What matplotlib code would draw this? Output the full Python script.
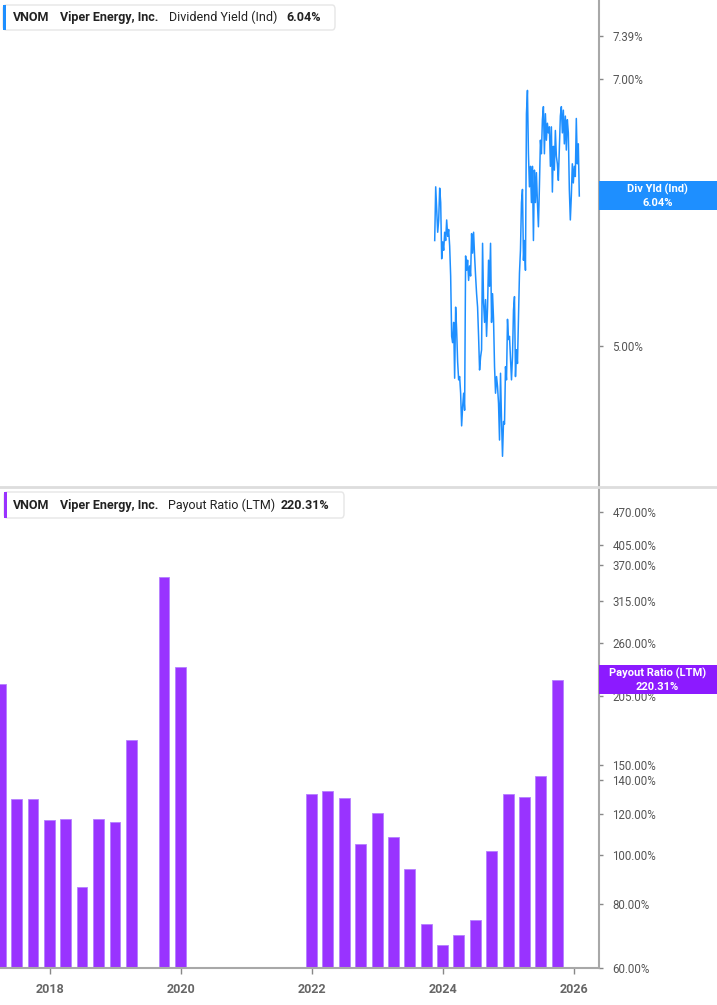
import matplotlib
matplotlib.use('Agg')
import matplotlib.pyplot as plt
import matplotlib.dates as mdates
from matplotlib.patches import FancyBboxPatch, Rectangle
from matplotlib.lines import Line2D
from matplotlib.ticker import FixedLocator, NullLocator, FuncFormatter
import pandas as pd

plt.rcParams['font.family'] = ['Roboto', 'DejaVu Sans']

# dividend yield (ind), %, sampled about every 5-6 days
yield_start = '2023-11-17'
yield_end = '2026-01-31'
yield_values = [
    5.71, 6.11, 5.93, 5.77, 5.86, 6.10, 5.99, 5.58, 5.70, 5.64,
    5.77, 5.71, 5.86, 5.74, 5.79, 5.67, 5.46, 5.06, 5.02, 5.15,
    4.80, 5.25, 5.10, 4.90, 4.79, 4.81, 4.71, 4.52, 4.63, 4.71,
    4.61, 5.60, 5.50, 5.57, 5.43, 5.53, 5.46, 5.76, 5.62, 5.77,
    5.60, 5.46, 5.34, 5.25, 5.06, 4.85, 4.93, 4.975, 5.69, 5.28,
    5.15, 5.30, 5.06, 5.25, 5.57, 5.39, 5.69, 5.15, 5.34, 5.17,
    4.87, 4.71, 4.81, 4.75, 4.65, 4.44, 4.83, 4.55, 4.35, 4.545,
    4.53, 4.87, 4.79, 5.17, 5.04, 5.06, 4.93, 4.79, 4.93, 5.23,
    5.32, 4.81, 4.975, 4.89, 5.19, 5.48, 5.64, 5.99, 6.09, 5.57,
    5.71, 5.50, 6.70, 6.90, 6.37, 6.11, 6.27, 5.99, 6.27, 5.71,
    6.24, 5.99, 6.22, 5.99, 5.81, 6.11, 6.48, 6.37, 6.65, 6.76,
    6.37, 6.70, 6.48, 6.62, 6.54, 6.59, 6.27, 6.59, 6.07, 6.43,
    6.24, 6.56, 6.35, 6.29, 6.16, 6.43, 6.68, 6.76, 6.54, 6.73,
    6.45, 6.68, 6.40, 6.65, 6.54, 6.09, 5.86, 6.04, 6.29, 6.14,
    6.27, 6.19, 6.66, 6.29, 6.45, 6.04,
]
yield_last = 6.04

# payout ratio (LTM), %, quarter ends
payout_dates = [
    '2017-03-31', '2017-06-30', '2017-09-30', '2017-12-31',
    '2018-03-31', '2018-06-30', '2018-09-30', '2018-12-31',
    '2019-03-31', '2019-09-30', '2019-12-31',
    '2021-12-31', '2022-03-31', '2022-06-30', '2022-09-30',
    '2022-12-31', '2023-03-31', '2023-06-30', '2023-09-30',
    '2023-12-31', '2024-03-31', '2024-06-30', '2024-09-30',
    '2024-12-31', '2025-03-31', '2025-06-30', '2025-09-30',
]
payout_values = [
    216.0, 128.7, 128.7, 117.0,
    117.6, 86.5, 117.6, 116.0,
    168.0, 350.6, 233.5,
    131.6, 133.2, 129.4, 104.9,
    121.0, 108.3, 93.8, 73.1,
    66.6, 69.6, 74.5, 101.6,
    131.5, 129.9, 142.8, 220.31,
]
payout_last = 220.31

yield_ticks = [5.00, 6.00, 7.00, 7.39]
payout_ticks = [60, 80, 100, 120, 140, 150, 205, 260, 315, 370, 405, 470]
year_ticks = ['2018', '2020', '2022', '2024', '2026']

blue = '#1e8fff'
purple = '#9933ff'
purple_dark = '#8c1aff'
spine_col = '#a8a8a8'

W, H = 717, 1005
fig = plt.figure(figsize=(W / 100, H / 100), dpi=100)


def fx(x):
    return x / W


def fy(y):
    return 1 - y / H


ax1 = fig.add_axes([0, fy(486), fx(598.5), 486 / H])
ax2 = fig.add_axes([0, fy(968), fx(598.5), 480 / H], sharex=ax1)

yield_dates = pd.date_range(yield_start, yield_end, periods=len(yield_values))
ax1.plot(yield_dates, yield_values, color=blue, lw=1.1)

bar_x = pd.to_datetime(payout_dates)
ax2.bar(bar_x, payout_values, width=61, color=purple, edgecolor='#b580ff',
        linewidth=0.6)

ax1.set_xlim(pd.Timestamp('2017-03-30'), pd.Timestamp('2026-05-18'))

pct = FuncFormatter(lambda v, p: f'{v:.2f}%')
for ax in (ax1, ax2):
    ax.set_yscale('log')
    ax.yaxis.tick_right()
    ax.yaxis.set_major_locator(FixedLocator(yield_ticks if ax is ax1 else payout_ticks))
    ax.yaxis.set_minor_locator(NullLocator())
    ax.yaxis.set_major_formatter(pct)
    ax.yaxis.set_minor_formatter(FuncFormatter(lambda v, p: ''))
    ax.tick_params(axis='y', which='major', length=3, width=1, color='#888888',
                   labelcolor='#555555', labelsize=8.3, pad=7)
    for s in ['top', 'left', 'bottom']:
        ax.spines[s].set_visible(False)
    ax.spines['right'].set_color(spine_col)
    ax.spines['right'].set_linewidth(1.5)

ax1.set_ylim(4.19, 7.733)
ax2.set_ylim(60, 524)
ax2.spines['bottom'].set_visible(True)
ax2.spines['bottom'].set_color(spine_col)
ax2.spines['bottom'].set_linewidth(1.5)

ax1.tick_params(axis='x', which='both', bottom=False, labelbottom=False)
ax2.xaxis.set_major_locator(FixedLocator(mdates.date2num(pd.to_datetime(year_ticks))))
ax2.xaxis.set_minor_locator(NullLocator())
ax2.xaxis.set_major_formatter(FuncFormatter(lambda v, p: mdates.num2date(v).strftime('%Y')))
ax2.tick_params(axis='x', length=4, width=1, color='#888888', labelcolor='#666666',
                labelsize=9, pad=7)
for t in ax2.get_xticklabels():
    t.set_fontweight('bold')


# value tags on the right axis
def tag(ax, value, ax_h, color, line1, line2):
    y = ax.transAxes.inverted().transform(ax.transData.transform((0, value)))[1]
    h = 29 / ax_h
    r = Rectangle((1.0, y - h / 2), (W - 598.5) / 598.5, h, transform=ax.transAxes,
                  facecolor=color, edgecolor='none', clip_on=False, zorder=10)
    ax.add_artist(r)
    cx = 1 + (657.5 - 598.5) / 598.5
    ax.text(cx, y + h * 0.22, line1, transform=ax.transAxes, ha='center', va='center',
            color='white', fontsize=8, fontweight='bold', zorder=11, clip_on=False)
    ax.text(cx, y - h * 0.24, line2, transform=ax.transAxes, ha='center', va='center',
            color='white', fontsize=8, fontweight='bold', zorder=11, clip_on=False)


tag(ax1, yield_last, 486, blue, 'Div Yld (Ind)', f'{yield_last:.2f}%')
tag(ax2, payout_last, 480, purple_dark, 'Payout Ratio (LTM)', f'{payout_last:.2f}%')

# panel separator
fig.add_artist(Line2D([0, 1], [fy(487), fy(487)], transform=fig.transFigure,
                      color='#dddddd', lw=2))


# legend boxes
def legend_box(x0, x1, y0, y1, color, parts):
    box = FancyBboxPatch((fx(x0), fy(y1)), fx(x1 - x0), (y1 - y0) / H,
                         boxstyle='round,pad=0,rounding_size=0.004',
                         transform=fig.transFigure, facecolor='white',
                         edgecolor='#e6e6e6', lw=1, zorder=5)
    fig.add_artist(box)
    stripe = Rectangle((fx(x0), fy(y1)), fx(3), (y1 - y0) / H, transform=fig.transFigure,
                       facecolor=color, edgecolor='none', zorder=6)
    fig.add_artist(stripe)
    yc = fy((y0 + y1) / 2)
    for x, s, w in parts:
        fig.text(fx(x), yc, s, ha='left', va='center', fontsize=9, fontweight=w,
                 color='#222222', zorder=7)


legend_box(3, 335, 5, 30, blue, [
    (13, 'VNOM', 'bold'), (60, 'Viper Energy, Inc.', 'bold'),
    (169, 'Dividend Yield (Ind)', 'normal'), (286, f'{yield_last:.2f}%', 'bold')])
legend_box(4, 344, 492, 518, purple, [
    (13, 'VNOM', 'bold'), (60, 'Viper Energy, Inc.', 'bold'),
    (168, 'Payout Ratio (LTM)', 'normal'), (281, f'{payout_last:.2f}%', 'bold')])

fig.savefig('out.png', dpi=100)
